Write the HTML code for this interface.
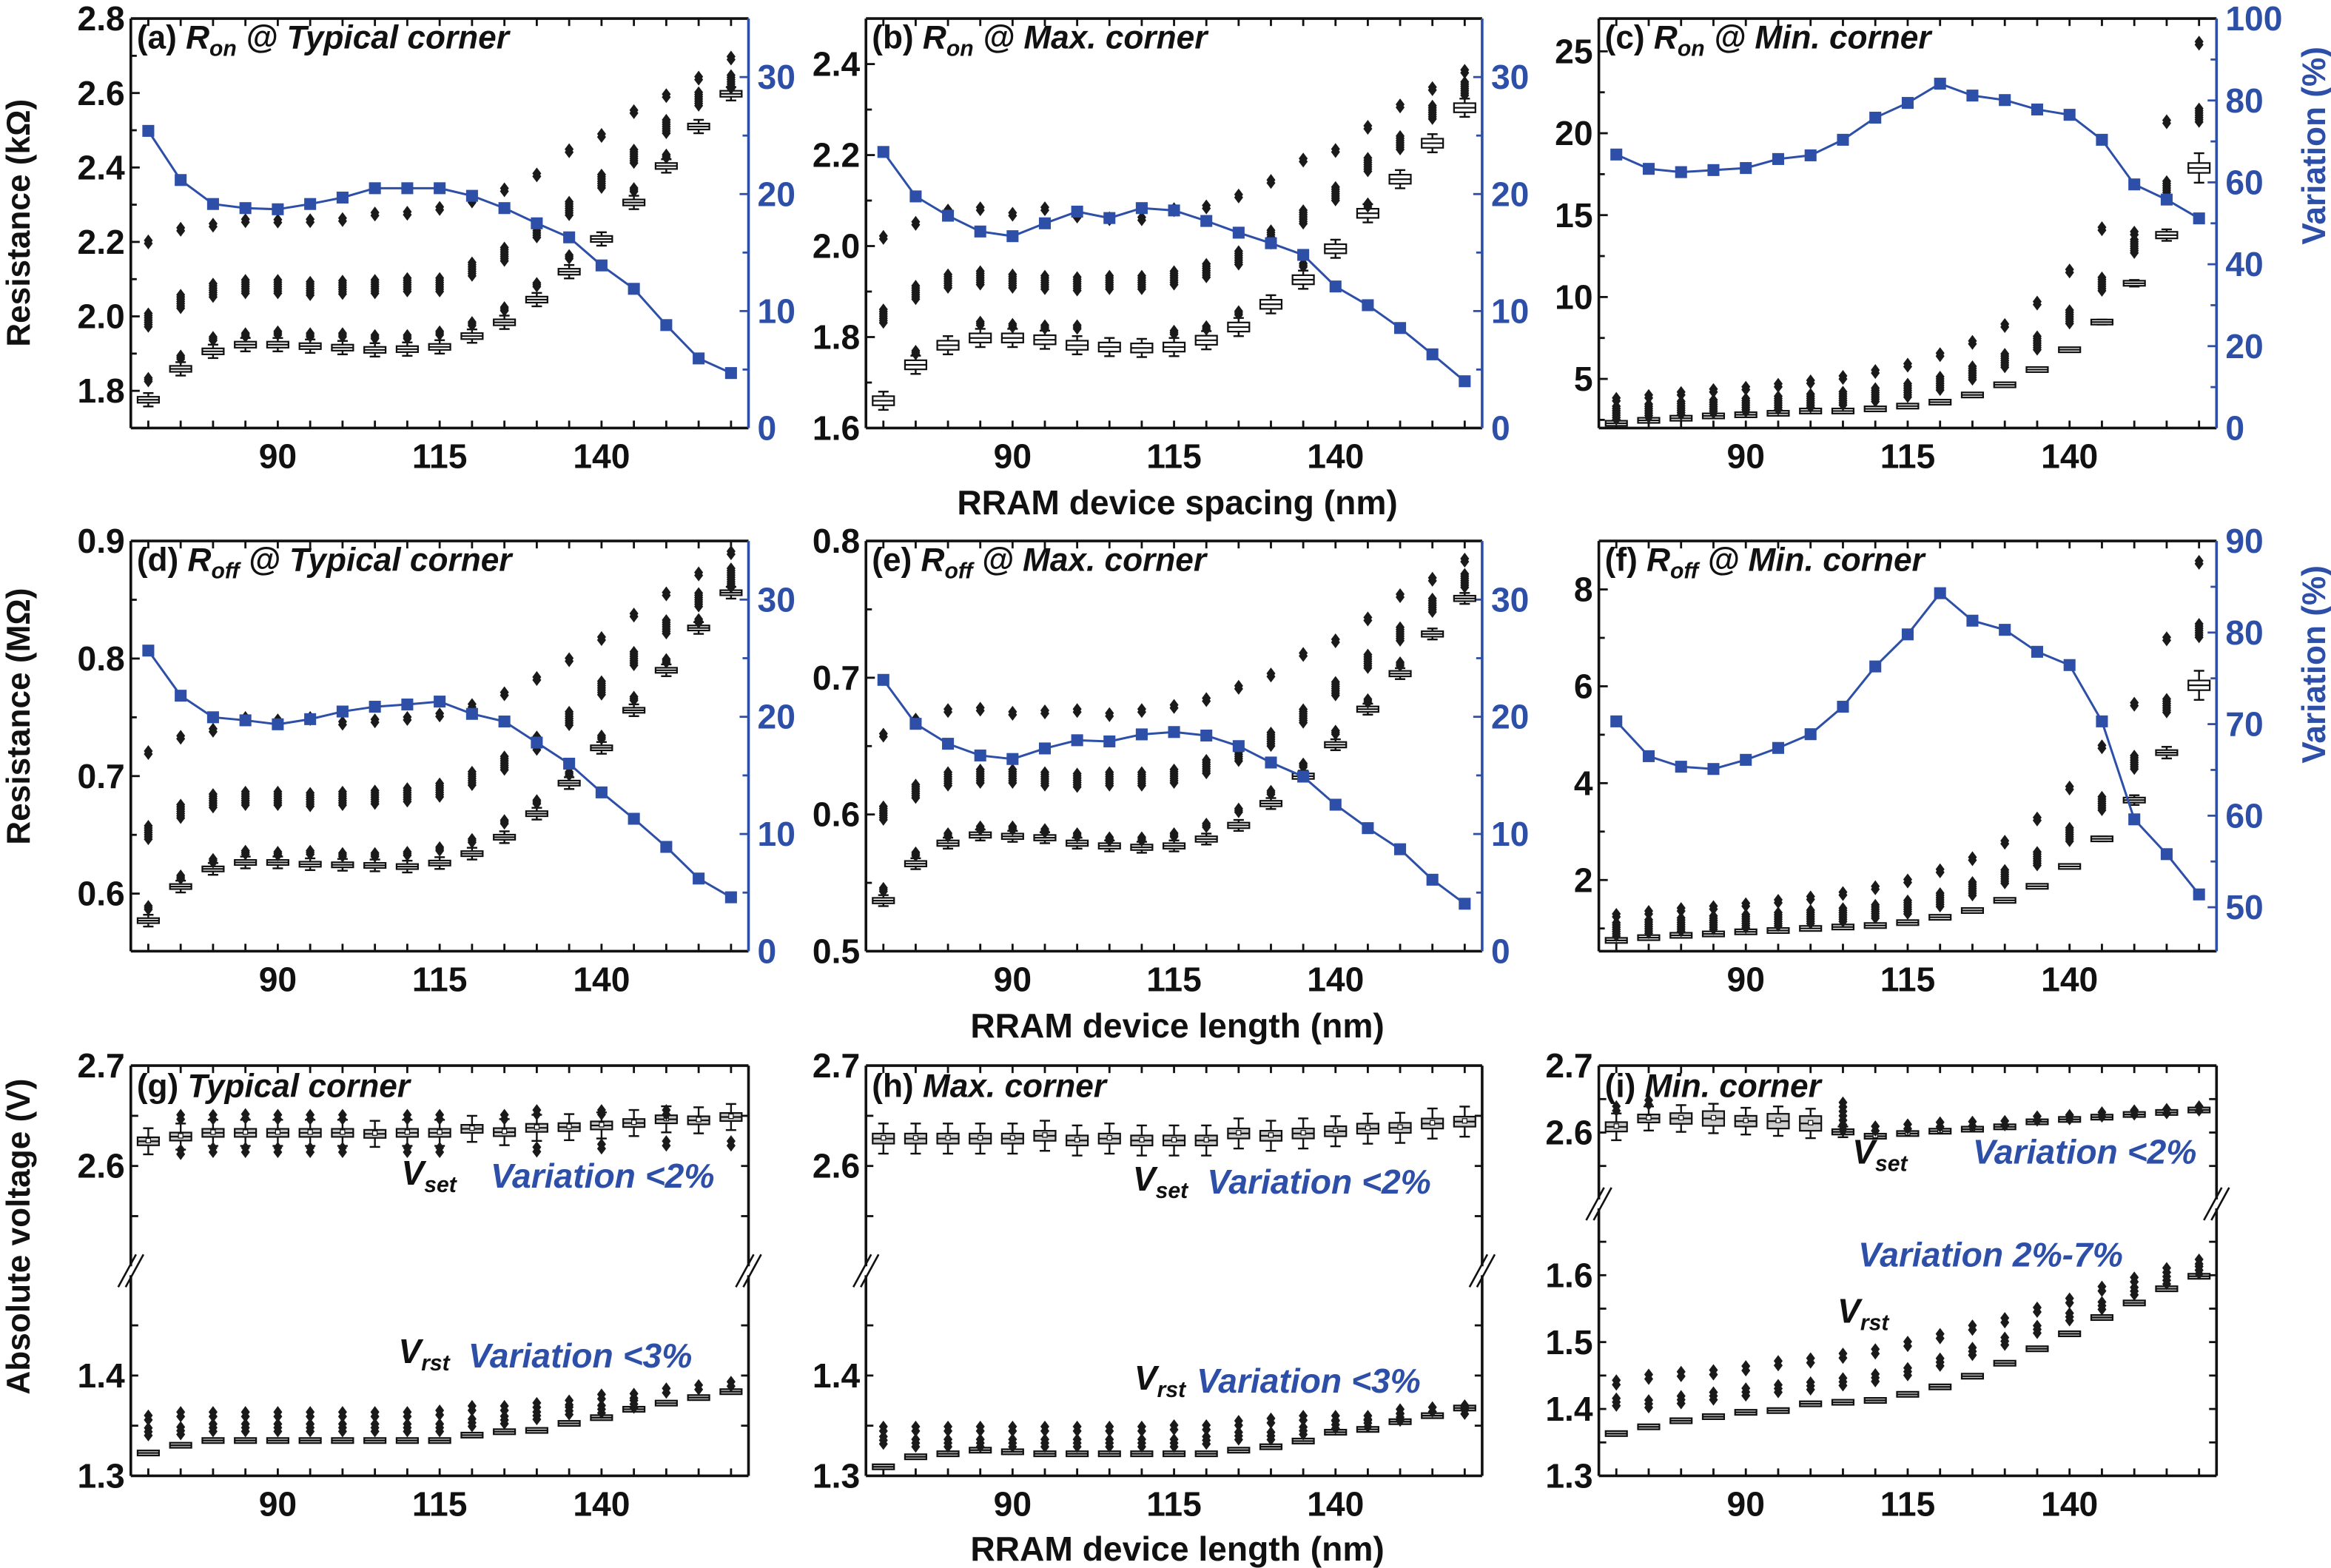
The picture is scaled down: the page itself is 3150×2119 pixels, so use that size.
<!DOCTYPE html>
<html><head><meta charset="utf-8">
<style>
html,body{margin:0;padding:0;background:#fff;}
svg{display:block;}
text{font-family:"Liberation Sans",Arial,sans-serif;font-weight:bold;}
</style></head>
<body>
<svg id="fig" xmlns="http://www.w3.org/2000/svg" width="3150" height="2119" viewBox="0 0 1568 1055" preserveAspectRatio="none">
<rect x="0" y="0" width="1568" height="1055" fill="#fff"/>
</svg>
<script>
const xCats=[70,75,80,85,90,95,100,105,110,115,120,125,130,135,140,145,150,155,160];
const xTickLabels=[90,115,140];
// (a)
const aMed=[1.776,1.859,1.906,1.924,1.924,1.920,1.916,1.910,1.912,1.918,1.947,1.984,2.045,2.120,2.208,2.306,2.404,2.510,2.598];
const aNear=[1.83,1.89,1.94,1.95,1.955,1.95,1.95,1.945,1.945,1.955,1.98,2.02,2.085,2.16,null,2.34,2.43,null,null];
const aMid=[1.99,2.04,2.07,2.08,2.08,2.075,2.078,2.08,2.085,2.085,2.127,2.167,2.23,2.29,2.363,2.43,2.51,2.584,2.63];
const aTop=[2.2,2.234,2.245,2.257,2.256,2.257,2.26,2.275,2.277,2.29,2.31,2.34,2.38,2.445,2.486,2.55,2.593,2.64,2.694];
const aVar=[25.4,21.2,19.15,18.8,18.7,19.15,19.7,20.5,20.5,20.5,19.85,18.8,17.5,16.3,13.9,11.9,8.8,5.95,4.7];
// (b)
const bMed=[1.66,1.739,1.782,1.798,1.798,1.794,1.782,1.778,1.776,1.778,1.793,1.822,1.872,1.926,1.994,2.072,2.147,2.226,2.304];
const bNear=[null,1.766,null,1.83,1.825,1.822,1.822,null,null,1.81,1.82,1.853,null,1.958,null,2.09,null,null,null];
const bMid=[1.846,1.898,1.923,1.93,1.923,1.92,1.917,1.92,1.92,1.93,1.946,1.974,2.02,2.064,2.115,2.179,2.227,2.294,2.346];
const bTop=[2.019,2.05,2.077,2.082,2.07,2.082,2.066,2.06,2.06,2.08,2.086,2.11,2.142,2.189,2.21,2.261,2.308,2.346,2.384];
const bVar=[23.6,19.8,18.15,16.8,16.4,17.5,18.5,17.95,18.8,18.6,17.7,16.7,15.8,14.8,12.1,10.5,8.55,6.3,4.0];
// (c)
const cMed=[2.29,2.47,2.6,2.74,2.81,2.9,3.04,3.04,3.17,3.34,3.58,4.02,4.64,5.57,6.78,8.47,10.84,13.78,17.88];
const cMid=[2.92,3.05,3.22,3.31,3.4,3.53,3.67,3.81,4.03,4.3,4.73,5.36,6.12,7.19,8.79,10.79,13.1,16.66,21.1];
const cTop=[3.75,3.93,4.11,4.29,4.43,4.61,4.82,5.09,5.45,5.84,6.48,7.23,8.26,9.63,11.59,14.17,13.9,20.7,25.5];
const cBox=[0.03,0.03,0.03,0.03,0.03,0.03,0.03,0.03,0.03,0.03,0.03,0.03,0.03,0.03,0.03,0.05,0.12,0.2,0.3];
const cWh=[0.05,0.05,0.05,0.05,0.05,0.05,0.05,0.05,0.05,0.05,0.05,0.05,0.05,0.05,0.1,0.15,0.2,0.35,0.9];
const cVar=[66.8,63.3,62.5,63.0,63.5,65.7,66.6,70.4,75.8,79.4,84.1,81.2,80.1,77.8,76.5,70.4,59.5,55.8,51.2];
// (d)
const dMed=[0.577,0.606,0.621,0.6265,0.6265,0.625,0.6245,0.624,0.623,0.626,0.634,0.648,0.668,0.694,0.724,0.756,0.79,0.826,0.856];
const dNear=[0.588,0.614,0.628,0.635,0.634,0.635,0.633,0.633,0.634,0.638,0.645,0.661,0.678,0.702,0.733,0.766,0.798,0.832,0.862];
const dMid=[0.652,0.670,0.679,0.681,0.681,0.68,0.681,0.682,0.684,0.688,0.698,0.711,0.728,0.749,0.775,0.80,0.827,0.85,0.871];
const dTop=[0.72,0.733,0.739,0.749,0.747,0.749,0.745,0.747,0.749,0.752,0.76,0.77,0.783,0.799,0.817,0.837,0.855,0.872,0.89];
const dVar=[25.65,21.8,19.96,19.7,19.36,19.8,20.45,20.86,21.05,21.3,20.25,19.6,17.8,16.0,13.55,11.3,8.9,6.2,4.6];
// (e)
const eMed=[0.537,0.564,0.579,0.585,0.584,0.583,0.579,0.577,0.576,0.577,0.582,0.592,0.608,0.628,0.651,0.677,0.703,0.732,0.758];
const eNear=[0.545,0.571,0.585,0.59,0.59,0.588,0.585,0.582,0.582,0.585,0.592,0.603,0.616,0.636,0.66,0.683,0.71,null,null];
const eMid=[0.601,0.617,0.626,0.628,0.628,0.626,0.625,0.626,0.626,0.628,0.635,0.644,0.655,0.672,0.692,0.712,0.732,0.753,0.771];
const eTop=[0.658,0.669,0.676,0.677,0.674,0.675,0.676,0.673,0.676,0.679,0.684,0.693,0.702,0.717,0.727,0.743,0.76,0.772,0.786];
const eVar=[23.15,19.4,17.7,16.7,16.4,17.3,18.0,17.9,18.5,18.7,18.4,17.5,16.1,14.9,12.5,10.5,8.7,6.1,4.05];
// (f)
const fMed=[0.753,0.81,0.858,0.887,0.93,0.957,1.0,1.03,1.06,1.12,1.23,1.37,1.58,1.87,2.28,2.85,3.65,4.63,6.02];
const fMid=[0.98,1.04,1.08,1.12,1.15,1.19,1.24,1.28,1.35,1.44,1.59,1.82,2.07,2.44,2.94,3.58,4.43,5.6,7.15];
const fTop=[1.27,1.33,1.39,1.43,1.49,1.56,1.63,1.72,1.84,1.98,2.19,2.44,2.78,3.26,3.9,4.75,5.63,6.98,8.56];
const fBox=[0.01,0.01,0.01,0.01,0.01,0.01,0.01,0.01,0.01,0.01,0.01,0.01,0.01,0.01,0.01,0.02,0.04,0.05,0.1];
const fWh=[0.02,0.02,0.02,0.02,0.02,0.02,0.02,0.02,0.02,0.02,0.02,0.02,0.02,0.02,0.02,0.05,0.1,0.12,0.3];
const fVar=[70.3,66.5,65.35,65.1,66.1,67.4,68.9,71.9,76.3,79.8,84.3,81.3,80.3,77.9,76.45,70.3,59.6,55.8,51.4];
// (g)
const gSetMed=[2.6246,2.6293,2.633,2.633,2.633,2.633,2.633,2.632,2.633,2.633,2.637,2.6337,2.638,2.6387,2.6404,2.6428,2.6465,2.6455,2.6488];
const gSetUp=[null,2.6488,2.6488,2.6495,2.6488,2.6488,2.6488,null,2.6488,2.6488,null,2.6488,2.6535,null,2.6535,null,2.6535,null,null];
const gSetDn=[null,2.614,2.616,2.616,2.616,2.616,2.616,null,2.616,2.616,null,null,2.6165,null,2.6195,null,2.6225,null,2.6225];
const gRstMed=[1.3228,1.3305,1.3352,1.3352,1.3352,1.3352,1.3352,1.3352,1.3352,1.3352,1.3406,1.344,1.3453,1.3523,1.358,1.3664,1.3725,1.378,1.3839];
const gRstTop=[1.358,1.3614,1.3614,1.3614,1.3614,1.3614,1.3614,1.3614,1.3614,1.363,1.3675,1.3675,1.3705,1.373,1.379,1.3797,1.385,1.3883,1.3916];
const gRstMid=[1.344,1.345,1.348,1.348,1.348,1.348,1.348,1.348,1.348,1.348,1.353,1.3557,1.36,1.3648,1.3664,1.3715,null,null,null];
// (h)
const hSetMed=[2.6273,2.6273,2.6273,2.6273,2.6273,2.6301,2.6254,2.6273,2.6254,2.6254,2.6254,2.6324,2.6301,2.6324,2.6346,2.6372,2.638,2.6423,2.6442];
const hRstMed=[1.309,1.319,1.322,1.3256,1.324,1.322,1.322,1.322,1.322,1.322,1.322,1.3256,1.329,1.3347,1.3435,1.3463,1.354,1.36,1.3676];
const hRstTop=[1.3469,1.3469,1.3469,1.3469,1.3469,1.3469,1.3469,1.3469,1.3469,1.3483,1.3483,1.3526,1.355,1.3577,1.3577,1.3577,1.3642,1.3662,1.3682];
const hRstMid=[1.3355,1.3327,1.3327,1.3327,1.3327,1.3327,1.3327,1.3327,1.3327,1.3327,1.3355,1.3398,1.3398,1.345,1.351,1.3526,1.3585,null,1.3654];
// (i)
const iSetMed=[2.6085,2.621,2.621,2.621,2.617,2.617,2.6136,2.601,2.5945,2.5985,2.602,2.605,2.6085,2.616,2.6196,2.623,2.627,2.630,2.6337];
const iSetBox=[0.007,0.006,0.008,0.011,0.008,0.011,0.011,0.004,0.0015,0.0015,0.0015,0.0015,0.0015,0.0015,0.0015,0.0015,0.0015,0.0015,0.0015];
const iSetWh=[0.02,0.018,0.02,0.022,0.02,0.022,0.022,0.008,0.002,0.002,0.002,0.002,0.002,0.002,0.002,0.002,0.002,0.002,0.002];
const iSetUp=[2.636,2.645,null,null,null,null,null,2.625,2.606,2.609,2.612,2.613,2.614,2.621,2.623,2.627,2.63,2.632,2.636];
const iRstMed=[1.3632,1.3733,1.3824,1.3885,1.395,1.3976,1.4077,1.41,1.4128,1.4219,1.433,1.449,1.4684,1.49,1.5124,1.5367,1.5585,1.5797,1.5984];
const iRstTop=[1.4396,1.4482,1.4523,1.4548,1.4608,1.4684,1.4725,1.4796,1.4861,1.4973,1.5089,1.5216,1.5327,1.5484,1.562,1.5797,1.5934,1.6075,1.6202];
const iRstMid=[1.4103,1.4077,1.4138,1.4194,1.4254,1.4305,1.4345,1.4406,1.4467,1.4558,1.47,1.4861,1.5013,1.519,1.5377,1.5544,1.5762,1.5924,1.6075];

const NS='http://www.w3.org/2000/svg';
const svg=document.getElementById('fig');
const BLUE='#2d4fa8';
function mk(tag,attrs,parent){const e=document.createElementNS(NS,tag);for(const k in attrs)e.setAttribute(k,attrs[k]);(parent||svg).appendChild(e);return e;}
function txt(html,x,y,size,anchor,fill,parent){const t=mk('text',{x:x,y:y,'font-size':size,'text-anchor':anchor||'start',fill:fill||'#111'},parent);t.innerHTML=html;return t;}
const XMIN=67.3,XMAX=162.7;
const cols=[[88,503.5],[582.5,997],[1075.5,1491]];
const rows=[[12.5,288],[364,640],[717,993]];

function frame(p){
  const g=mk('g',{});
  
  
  p.g=g;
  p.x=v=>p.L+(v-XMIN)/(XMAX-XMIN)*(p.R-p.L);
  return g;
}
function xAxis(p){
  const g=p.g;
  const ax=mk('line',{x1:p.L,y1:p.B,x2:p.R,y2:p.B,stroke:'#111','stroke-width':1.8},g);
  
  
  const top=mk('line',{x1:p.L,y1:p.T,x2:p.R,y2:p.T,stroke:'#111','stroke-width':1.8},g);
  
  
  xCats.forEach(v=>{
    const x=p.x(v);
    const t1=mk('line',{x1:x,y1:p.B,x2:x,y2:p.B-5,stroke:'#111','stroke-width':1.4},g);
    
    
    const t2=mk('line',{x1:x,y1:p.T,x2:x,y2:p.T+5,stroke:'#111','stroke-width':1.4},g);
    
    
  });
  xTickLabels.forEach(v=>{
    const t=txt(String(v),p.x(v),p.B+27,23,'middle','#111',g);
    
    
  });
}
function yAxisLinear(p,side,dom,majors,minorStep,color,fmt){
  const g=p.g;
  const X=side==='L'?p.L:p.R;
  const y=v=>p.B-(v-dom[0])/(dom[1]-dom[0])*(p.B-p.T);
  const ax=mk('line',{x1:X,y1:p.T,x2:X,y2:p.B,stroke:color,'stroke-width':1.8},g);
  
  
  const dir=side==='L'?1:-1;
  const start=Math.ceil(dom[0]/minorStep-1e-6)*minorStep;
  for(let v=start;v<=dom[1]+1e-9;v+=minorStep){
    const yy=y(v);
    if(yy<p.T+2||yy>p.B-2)continue;
    const isMaj=majors.some(m=>Math.abs(m-v)<1e-6);
    const tk=mk('line',{x1:X,y1:yy,x2:X+dir*(isMaj?6:4),y2:yy,stroke:color,'stroke-width':1.4},g);
    
    
  }
  majors.forEach(v=>{
    const t=txt(fmt(v),side==='L'?X-4:X+6,y(v)+8,23,side==='L'?'end':'start',color,g);
    
    
  });
  return y;
}
function diamond(x,y,g,name){
  const d=mk('path',{d:`M${x},${y-4}L${x+3},${y}L${x},${y+4}L${x-3},${y}Z`,fill:'#1a1a1a'},g);
  
  
}
function cluster(x,y,spread,n,g,name){
  if(n<=1){diamond(x,y,g,name);return;}
  for(let k=0;k<n;k++){diamond(x,y-spread+2*spread*k/(n-1),g,name);}
}
function boxplot(p,xv,med,half,wh,y,fill,name){
  const g=p.g,x=p.x(xv),w=7.2;
  const yq3=y(med+half),yq1=y(med-half);
  const h=Math.max(yq1-yq3,3.4);
  const cy=y(med);
  const wt=mk('line',{x1:x,y1:y(med+wh),x2:x,y2:y(med-wh),stroke:'#111','stroke-width':1.2},g);
  
  
  [y(med+wh),y(med-wh)].forEach(yy=>{
    const c=mk('line',{x1:x-3.5,y1:yy,x2:x+3.5,y2:yy,stroke:'#111','stroke-width':1.2},g);
    
    
  });
  const r=mk('rect',{x:x-w,y:cy-h/2,width:2*w,height:h,fill:fill,stroke:'#111','stroke-width':1.1},g);
  
  
  const m=mk('line',{x1:x-w,y1:cy,x2:x+w,y2:cy,stroke:'#111','stroke-width':1.1},g);
  
  
}
function varLine(p,vals,yr){
  const pts=xCats.map((v,i)=>[p.x(v),yr(vals[i])]);
  const l=mk('polyline',{points:pts.map(q=>q.join(',')).join(' '),fill:'none',stroke:BLUE,'stroke-width':1.5},p.g);
  
  
  pts.forEach(q=>{
    const s=mk('rect',{x:q[0]-4,y:q[1]-4,width:8,height:8,fill:BLUE},p.g);
    
    
  });
}
function resPanel(cfg){
  const p={id:cfg.id,L:cols[cfg.c][0],R:cols[cfg.c][1],T:rows[cfg.r][0],B:rows[cfg.r][1]};
  frame(p);
  xAxis(p);
  const yl=yAxisLinear(p,'L',cfg.yl,cfg.lMaj,cfg.lMin,'#111',cfg.lFmt);
  const yr=yAxisLinear(p,'R',cfg.yr,cfg.rMaj,cfg.rMin,BLUE,v=>String(v));
  xCats.forEach((xv,i)=>{
    const x=p.x(xv);
    const bh=Array.isArray(cfg.box)?cfg.box[i]:cfg.box;
    const wh=Array.isArray(cfg.wh)?cfg.wh[i]:cfg.wh;
    boxplot(p,xv,cfg.med[i],bh,wh,yl,'#fff','box-'+xv);
    if(cfg.near&&cfg.near[i]!=null)cluster(x,yl(cfg.near[i]),1.2,3,p.g,'near-outlier');
    if(cfg.mid[i]!=null)cluster(x,yl(cfg.mid[i]),4.5,7,p.g,'outlier-cluster');
    if(cfg.top[i]!=null)cluster(x,yl(cfg.top[i]),1,2,p.g,'top-outlier');
  });
  varLine(p,cfg.vr,yr);
  const t=txt(cfg.title,p.L+4,p.T+20,22,'start','#111',p.g);
  
  
}
const f1=v=>v.toFixed(1);
const sub=(a,b)=>`<tspan font-style="italic">${a}</tspan><tspan font-style="italic" font-size="15" dy="5">${b}</tspan>`;
resPanel({id:'a',c:0,r:0,yl:[1.7,2.8],lMaj:[1.8,2.0,2.2,2.4,2.6,2.8],lMin:0.1,lFmt:f1,yr:[0,35],rMaj:[0,10,20,30],rMin:5,
  med:aMed,near:aNear,mid:aMid,top:aTop,vr:aVar,box:0.008,wh:0.018,
  title:'(a) '+sub('R','on')+'<tspan dy="-5" font-style="italic"> @ Typical corner</tspan>'});
resPanel({id:'b',c:1,r:0,yl:[1.6,2.5],lMaj:[1.6,1.8,2.0,2.2,2.4],lMin:0.1,lFmt:f1,yr:[0,35],rMaj:[0,10,20,30],rMin:5,
  med:bMed,near:bNear,mid:bMid,top:bTop,vr:bVar,box:0.01,wh:0.02,
  title:'(b) '+sub('R','on')+'<tspan dy="-5" font-style="italic"> @ Max. corner</tspan>'});
resPanel({id:'c',c:2,r:0,yl:[2,27],lMaj:[5,10,15,20,25],lMin:2.5,lFmt:v=>String(v),yr:[0,100],rMaj:[0,20,40,60,80,100],rMin:10,
  med:cMed,near:null,mid:cMid,top:cTop,vr:cVar,box:cBox,wh:cWh,
  title:'(c) '+sub('R','on')+'<tspan dy="-5" font-style="italic"> @  Min. corner</tspan>'});
resPanel({id:'d',c:0,r:1,yl:[0.551,0.9],lMaj:[0.6,0.7,0.8,0.9],lMin:0.05,lFmt:f1,yr:[0,35],rMaj:[0,10,20,30],rMin:5,
  med:dMed,near:dNear,mid:dMid,top:dTop,vr:dVar,box:0.002,wh:0.005,
  title:'(d) '+sub('R','off')+'<tspan dy="-5" font-style="italic"> @ Typical corner</tspan>'});
resPanel({id:'e',c:1,r:1,yl:[0.5,0.8],lMaj:[0.5,0.6,0.7,0.8],lMin:0.05,lFmt:f1,yr:[0,35],rMaj:[0,10,20,30],rMin:5,
  med:eMed,near:eNear,mid:eMid,top:eTop,vr:eVar,box:0.002,wh:0.004,
  title:'(e) '+sub('R','off')+'<tspan dy="-5" font-style="italic"> @ Max. corner</tspan>'});
resPanel({id:'f',c:2,r:1,yl:[0.53,9.0],lMaj:[2,4,6,8],lMin:1,lFmt:v=>String(v),yr:[45.2,90],rMaj:[50,60,70,80,90],rMin:5,
  med:fMed,near:null,mid:fMid,top:fTop,vr:fVar,box:fBox,wh:fWh,
  title:'(f) '+sub('R','off')+'<tspan dy="-5" font-style="italic"> @ Min. corner</tspan>'});

function voltPanel(cfg){
  const p={id:cfg.id,L:cols[cfg.c][0],R:cols[cfg.c][1],T:rows[2][0],B:rows[2][1]};
  frame(p);
  xAxis(p);
  const brk=cfg.brk;
  const y=v=>v>2?p.T+(cfg.up[1]-v)/(cfg.up[1]-cfg.up[0])*(brk-3-p.T):p.B-(v-cfg.lo[0])/(cfg.lo[1]-cfg.lo[0])*(p.B-brk-3);
  [p.L,p.R].forEach((X,k)=>{
    const a=mk('line',{x1:X,y1:p.T,x2:X,y2:p.B,stroke:'#111','stroke-width':1.8},p.g);
    
    
    const dir=k?-1:1;
    cfg.ticks.forEach(v=>{
      const tk=mk('line',{x1:X,y1:y(v),x2:X+dir*5,y2:y(v),stroke:'#111','stroke-width':1.4},p.g);
      
      
    });
    const wb=mk('rect',{x:X-7,y:brk-3,width:14,height:6,fill:'#fff'},p.g);
    
    
    [-2.5,2.5].forEach(o=>{
      const s=mk('line',{x1:X-6+o,y1:brk+11,x2:X+6+o,y2:brk-11,stroke:'#111','stroke-width':1.3},p.g);
      
      
    });
  });
  cfg.labels.forEach(v=>{
    const t=txt(v.toFixed(1),p.L-4,y(v)+8,23,'end','#111',p.g);
    
    
  });
  xCats.forEach((xv,i)=>{
    const x=p.x(xv);
    boxplot(p,xv,cfg.setMed[i],cfg.setBox[i],cfg.setWh[i],y,'#cdcdcd','vset-box-'+xv);
    const mm=mk('rect',{x:x-1.5,y:y(cfg.setMed[i])-2,width:3,height:3,fill:'#fff',stroke:'#111','stroke-width':0.6},p.g);
    
    
    if(cfg.setUp&&cfg.setUp[i]!=null)cluster(x,y(cfg.setUp[i]),(cfg.id==='i'&&xv===105)?9:1.5,(cfg.id==='i'&&xv===105)?7:2,p.g,'vset-outlier');
    if(cfg.setDn&&cfg.setDn[i]!=null)cluster(x,y(cfg.setDn[i]),1.5,2,p.g,'vset-outlier');
    boxplot(p,xv,cfg.rstMed[i],cfg.rstBox,cfg.rstBox*1.6,y,'#cdcdcd','vrst-box-'+xv);
    if(cfg.rstTop[i]!=null)cluster(x,y(cfg.rstTop[i]),1.5,2,p.g,'vrst-outlier');
    if(cfg.rstMid[i]!=null)cluster(x,y(cfg.rstMid[i]),2.5,3,p.g,'vrst-outlier');
  });
  const t=txt(cfg.title,p.L+4,p.T+21,22,'start','#111',p.g);
  
  
  cfg.notes.forEach(n=>{
    const e=txt(n[0],n[1],n[2],23,'start',n[3],p.g);
    
    
  });
}
const rep=(v,n)=>Array(n).fill(v);
voltPanel({id:'g',c:0,brk:855,up:[2.5,2.7],lo:[1.3,1.5],ticks:[2.55,2.6,2.65,1.35,1.4,1.45],labels:[2.7,2.6,1.4,1.3],
  setMed:gSetMed,setBox:rep(0.004,19),setWh:rep(0.013,19),setUp:gSetUp,setDn:gSetDn,
  rstMed:gRstMed,rstBox:0.0012,rstTop:gRstTop,rstMid:gRstMid,
  title:'(g) <tspan font-style="italic">Typical corner</tspan>',
  notes:[[sub('V','set'),270,797,'#111','vset-label'],['<tspan font-style="italic">Variation &lt;2%</tspan>',330,799,BLUE,'vset-variation-note'],
         [sub('V','rst'),268,917,'#111','vrst-label'],['<tspan font-style="italic">Variation &lt;3%</tspan>',315,920,BLUE,'vrst-variation-note']]});
voltPanel({id:'h',c:1,brk:855,up:[2.5,2.7],lo:[1.3,1.5],ticks:[2.55,2.6,2.65,1.35,1.4,1.45],labels:[2.7,2.6,1.4,1.3],
  setMed:hSetMed,setBox:rep(0.005,19),setWh:rep(0.015,19),setUp:null,setDn:null,
  rstMed:hRstMed,rstBox:0.0012,rstTop:hRstTop,rstMid:hRstMid,
  title:'(h) <tspan font-style="italic">Max. corner</tspan>',
  notes:[[sub('V','set'),762,801,'#111','vset-label'],['<tspan font-style="italic">Variation &lt;2%</tspan>',812,803,BLUE,'vset-variation-note'],
         [sub('V','rst'),763,935,'#111','vrst-label'],['<tspan font-style="italic">Variation &lt;3%</tspan>',805,937,BLUE,'vrst-variation-note']]});
voltPanel({id:'i',c:2,brk:810,up:[2.5,2.7],lo:[1.3,1.7],ticks:[2.55,2.6,2.65,1.35,1.4,1.45,1.5,1.55,1.6,1.65],labels:[2.7,2.6,1.6,1.5,1.4,1.3],
  setMed:iSetMed,setBox:iSetBox,setWh:iSetWh,setUp:iSetUp,setDn:null,
  rstMed:iRstMed,rstBox:0.0015,rstTop:iRstTop,rstMid:iRstMid,
  title:'(i) <tspan font-style="italic">Min. corner</tspan>',
  notes:[[sub('V','set'),1246,783,'#111','vset-label'],['<tspan font-style="italic">Variation &lt;2%</tspan>',1327,783,BLUE,'vset-variation-note'],
         ['<tspan font-style="italic">Variation 2%-7%</tspan>',1250,852,BLUE,'vrst-variation-note'],[sub('V','rst'),1236,890,'#111','vrst-label']]});

function rotTitle(s,x,y,color,name){
  const t=mk('text',{x:0,y:0,'font-size':22,'text-anchor':'middle',fill:color,transform:`translate(${x},${y}) rotate(-90)`});
  t.textContent=s;
  
  
}
rotTitle('Resistance (kΩ)',20,150,'#111','y-axis-title-row1');
rotTitle('Resistance (MΩ)',20,482,'#111','y-axis-title-row2');
rotTitle('Absolute voltage (V)',20,832,'#111','y-axis-title-row3');
rotTitle('Variation (%)',1564,98,BLUE,'right-axis-title-row1');
rotTitle('Variation (%)',1564,447,BLUE,'right-axis-title-row2');
function xTitle(s,y,name){
  const t=txt(s,792,y,23,'middle','#111');
  
  
}
xTitle('RRAM device spacing (nm)',346,'x-axis-title-row1');
xTitle('RRAM device length (nm)',698,'x-axis-title-row2');
xTitle('RRAM device length (nm)',1050,'x-axis-title-row3');
</script>
</body></html>
